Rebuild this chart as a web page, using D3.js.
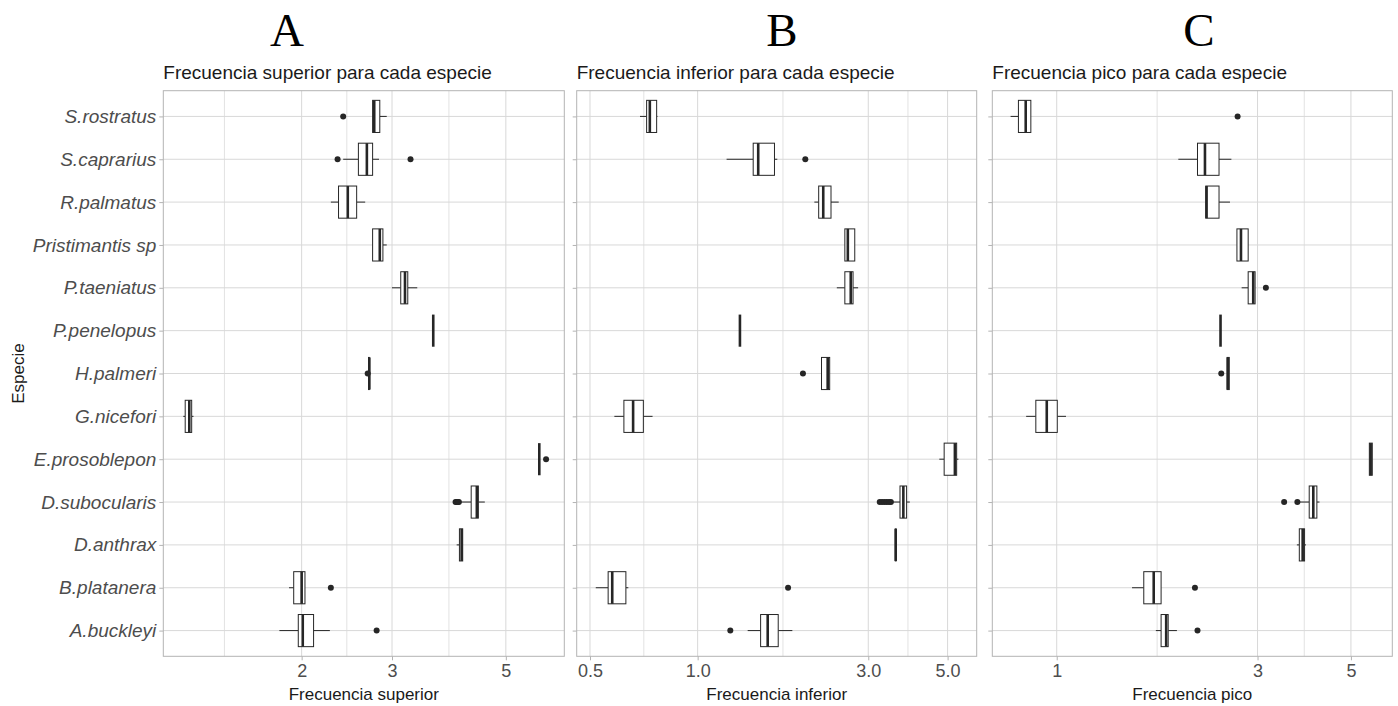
<!DOCTYPE html>
<html>
<head>
<meta charset="utf-8">
<script src="https://cdn.jsdelivr.net/npm/d3@7"></script>
<style>
  body { margin: 0; background: #fff; }
  svg text { font-family: "Liberation Sans", Arial, sans-serif; }
</style>
</head>
<body>
<svg id="chart" width="1398" height="706"></svg>
<script>
// Especies (de arriba hacia abajo)
const species = ['S.rostratus', 'S.caprarius', 'R.palmatus', 'Pristimantis sp', 'P.taeniatus',
  'P.penelopus', 'H.palmeri', 'G.nicefori', 'E.prosoblepon', 'D.subocularis', 'D.anthrax',
  'B.platanera', 'A.buckleyi'];

// [bigote inf, Q1, mediana, Q3, bigote sup]
const superiorStats = [
  [2.75, 2.75, 2.77, 2.84, 2.93], [2.41, 2.58, 2.68, 2.75, 2.83], [2.28, 2.36, 2.46, 2.56, 2.66],
  [2.75, 2.75, 2.84, 2.88, 2.93], [3.00, 3.12, 3.18, 3.22, 3.36], [3.61, 3.61, 3.61, 3.61, 3.61],
  [2.70, 2.70, 2.71, 2.71, 2.71], [1.176, 1.186, 1.208, 1.221, 1.231], [5.81, 5.81, 5.81, 5.81, 5.81],
  [4.07, 4.28, 4.39, 4.42, 4.55], [4.01, 4.06, 4.10, 4.12, 4.12], [1.89, 1.93, 2.00, 2.03, 2.03],
  [1.81, 1.97, 2.01, 2.11, 2.27]
];
const superiorOutliers = [[2.41], [2.35, 3.26], [], [], [], [], [2.69], [], [5.99],
  [3.99, 4.01, 4.03, 4.05], [], [2.28], [2.80]];

const inferiorStats = [
  [0.69, 0.72, 0.735, 0.768, 0.772], [1.205, 1.43, 1.477, 1.64, 1.67], [2.12, 2.18, 2.245, 2.36, 2.48],
  [2.58, 2.58, 2.63, 2.75, 2.75], [2.45, 2.58, 2.68, 2.72, 2.81], [1.313, 1.313, 1.313, 1.313, 1.313],
  [2.22, 2.22, 2.31, 2.34, 2.34], [0.585, 0.622, 0.660, 0.705, 0.748], [4.74, 4.89, 5.24, 5.30, 5.36],
  [3.50, 3.68, 3.76, 3.84, 3.92], [3.57, 3.57, 3.58, 3.59, 3.59], [0.519, 0.562, 0.577, 0.630, 0.640],
  [1.38, 1.50, 1.57, 1.68, 1.84]
];
const inferiorOutliers = [[], [2.00], [], [], [], [], [1.97], [], [],
  [3.23, 3.28, 3.33, 3.38, 3.43, 3.47], [], [1.79], [1.234]];

const picoStats = [
  [0.777, 0.811, 0.844, 0.868, 0.868], [1.945, 2.16, 2.25, 2.43, 2.60], [2.26, 2.26, 2.27, 2.43, 2.58],
  [2.68, 2.68, 2.74, 2.85, 2.85], [2.75, 2.85, 2.93, 2.96, 2.96], [2.45, 2.45, 2.45, 2.45, 2.45],
  [2.54, 2.54, 2.55, 2.57, 2.57], [0.846, 0.892, 0.947, 1.003, 1.052], [5.53, 5.53, 5.57, 5.62, 5.62],
  [3.78, 3.98, 4.07, 4.15, 4.21], [3.72, 3.77, 3.84, 3.88, 3.91], [1.51, 1.61, 1.70, 1.77, 1.77],
  [1.72, 1.77, 1.82, 1.84, 1.93]
];
const picoOutliers = [[2.69], [], [], [], [3.14], [], [2.46], [], [],
  [3.47, 3.73], [], [2.13], [2.16]];

// Cortes de los ejes (log10)
const superiorTicks = [1, 2, 3, 5, 10];
const inferiorTicks = [0.5, 1, 3, 5];
const picoTicks = [1, 3, 5];

const svg = d3.select('#chart');
const plotTop = 90.7, plotBottom = 656.3;

const y = d3.scalePoint()
  .domain(species)
  .range([plotTop, plotBottom])
  .padding(0.6);
const boxH = y.step() * 0.75;

const panels = [
  { letter: 'A', letterX: 287, title: 'Frecuencia superior para cada especie', xTitle: 'Frecuencia superior',
    stats: superiorStats, outliers: superiorOutliers, ticks: superiorTicks, fmt: d3.format('d'),
    domain: [1.075, 6.5], x0: 163.3, x1: 564.3, yLabels: true },
  { letter: 'B', letterX: 782, title: 'Frecuencia inferior para cada especie', xTitle: 'Frecuencia inferior',
    stats: inferiorStats, outliers: inferiorOutliers, ticks: inferiorTicks, fmt: d3.format('.1f'),
    domain: [0.459, 6.03], x0: 576.7, x1: 976.7, yLabels: false },
  { letter: 'C', letterX: 1199, title: 'Frecuencia pico para cada especie', xTitle: 'Frecuencia pico',
    stats: picoStats, outliers: picoOutliers, ticks: picoTicks, fmt: d3.format('d'),
    domain: [0.703, 6.27], x0: 992.3, x1: 1392.3, yLabels: false }
];

function drawPanel(p) {
  const g = svg.append('g');
  const x = d3.scaleLog().domain(p.domain).range([p.x0, p.x1]);
  const inRange = v => v >= p.domain[0] && v <= p.domain[1];

  // Rejilla menor: punto medio (log) entre cortes
  const minor = d3.pairs(p.ticks).map(([a, b]) => Math.sqrt(a * b)).filter(inRange);
  const major = p.ticks.filter(inRange);

  g.selectAll('.minor').data(minor).enter().append('line')
    .attr('x1', d => x(d)).attr('x2', d => x(d))
    .attr('y1', plotTop).attr('y2', plotBottom)
    .attr('stroke', '#e2e2e2').attr('stroke-width', 1);
  g.selectAll('.major').data(major).enter().append('line')
    .attr('x1', d => x(d)).attr('x2', d => x(d))
    .attr('y1', plotTop).attr('y2', plotBottom)
    .attr('stroke', '#d8d8d8').attr('stroke-width', 1);
  g.selectAll('.hgrid').data(species).enter().append('line')
    .attr('x1', p.x0).attr('x2', p.x1)
    .attr('y1', d => y(d)).attr('y2', d => y(d))
    .attr('stroke', '#d8d8d8').attr('stroke-width', 1);

  // Ejes
  const xAxis = g.append('g')
    .attr('transform', `translate(0,${plotBottom})`)
    .call(d3.axisBottom(x).tickValues(major).tickFormat(p.fmt).tickSize(4).tickPadding(4));
  xAxis.select('.domain').remove();
  xAxis.selectAll('line').attr('stroke', '#b3b3b3');
  xAxis.selectAll('text').attr('fill', '#4d4d4d').style('font-size', '18px')
    .style('font-family', '"Liberation Sans", Arial, sans-serif');

  const yAxis = g.append('g')
    .attr('transform', `translate(${p.x0},0)`)
    .call(d3.axisLeft(y).tickSize(4).tickPadding(3).tickFormat(p.yLabels ? (d => d) : ''));
  yAxis.select('.domain').remove();
  yAxis.selectAll('line').attr('stroke', '#b3b3b3');
  yAxis.selectAll('text').attr('fill', '#4d4d4d').style('font-size', '19px')
    .style('font-style', 'italic')
    .style('font-family', '"Liberation Sans", Arial, sans-serif');

  // Cajas
  species.forEach((sp, i) => {
    const [lo, q1, med, q3, hi] = p.stats[i];
    const cy = y(sp);
    g.append('line').attr('x1', x(lo)).attr('x2', x(q1)).attr('y1', cy).attr('y2', cy)
      .attr('stroke', '#262626').attr('stroke-width', 1);
    g.append('line').attr('x1', x(q3)).attr('x2', x(hi)).attr('y1', cy).attr('y2', cy)
      .attr('stroke', '#262626').attr('stroke-width', 1);
    g.append('rect')
      .attr('x', x(q1)).attr('y', cy - boxH / 2)
      .attr('width', Math.max(0, x(q3) - x(q1))).attr('height', boxH)
      .attr('fill', '#fff').attr('stroke', '#262626').attr('stroke-width', 1);
    g.append('line').attr('x1', x(med)).attr('x2', x(med))
      .attr('y1', cy - boxH / 2).attr('y2', cy + boxH / 2)
      .attr('stroke', '#262626').attr('stroke-width', 2.6);
    g.selectAll(null).data(p.outliers[i]).enter().append('circle')
      .attr('cx', d => x(d)).attr('cy', cy).attr('r', 3)
      .attr('fill', '#262626');
  });

  // Borde del panel
  g.append('rect')
    .attr('x', p.x0).attr('y', plotTop)
    .attr('width', p.x1 - p.x0).attr('height', plotBottom - plotTop)
    .attr('fill', 'none').attr('stroke', '#b3b3b3').attr('stroke-width', 1);

  // Textos
  g.append('text').attr('x', p.x0).attr('y', 79)
    .attr('fill', '#1a1a1a').style('font-size', '19px').text(p.title);
  g.append('text').attr('x', (p.x0 + p.x1) / 2).attr('y', 700)
    .attr('text-anchor', 'middle').attr('fill', '#1a1a1a').style('font-size', '17px').text(p.xTitle);
  g.append('text').attr('x', p.letterX).attr('y', 46)
    .attr('text-anchor', 'middle').attr('fill', '#000')
    .style('font-family', '"Liberation Serif", "Times New Roman", serif')
    .style('font-size', '47px').text(p.letter);
}

panels.forEach(drawPanel);

svg.append('text')
  .attr('transform', `translate(24,${(plotTop + plotBottom) / 2}) rotate(-90)`)
  .attr('text-anchor', 'middle').attr('fill', '#1a1a1a')
  .style('font-size', '17px').text('Especie');
</script>
</body>
</html>
